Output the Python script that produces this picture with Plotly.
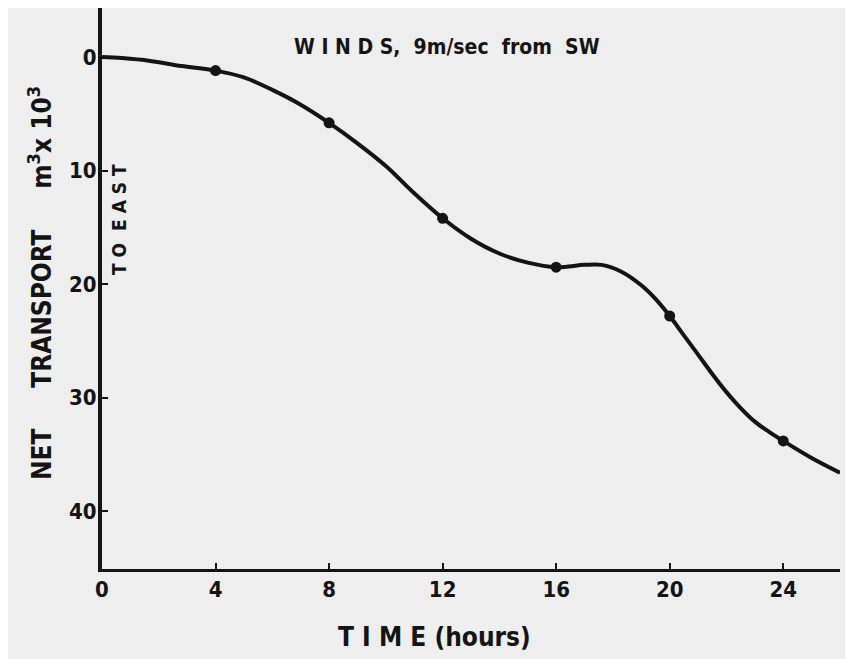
import plotly.graph_objects as go

# Curve (hours, net transport in 10^3 m^3)
curve_hours = [0, 0.7, 1.7, 2.8, 4, 5, 6, 7, 8, 9, 10, 11, 12, 13, 14, 15, 16, 17, 17.6,
               18.3, 19, 19.5, 20, 20.5, 21, 21.5, 22, 22.5, 23, 23.5, 24, 25, 26]
curve_transport = [0, 0.1, 0.35, 0.8, 1.2, 1.8, 2.9, 4.2, 5.8, 7.6, 9.6, 12.0, 14.2, 16.0,
                   17.3, 18.1, 18.5, 18.3, 18.3, 18.9, 20.1, 21.3, 22.8, 24.5, 26.2, 27.9,
                   29.5, 30.9, 32.1, 33.0, 33.8, 35.3, 36.6]

# Plotted observation points
point_hours = [4, 8, 12, 16, 20, 24]
point_transport = [1.2, 5.8, 14.2, 18.5, 22.8, 33.8]

x_ticks = [0, 4, 8, 12, 16, 20, 24]
y_ticks = [0, 10, 20, 30, 40]

FONT = "Liberation Sans Narrow, DejaVu Sans Condensed, Arial Narrow, sans-serif"
BG = "#eeeeee"
INK = "#141414"

fig = go.Figure()
fig.add_trace(go.Scatter(x=curve_hours, y=curve_transport, mode="lines",
                         line=dict(color=INK, width=4, shape="spline", smoothing=1.0),
                         hoverinfo="skip", showlegend=False))
fig.add_trace(go.Scatter(x=point_hours, y=point_transport, mode="markers",
                         marker=dict(color=INK, size=11), showlegend=False))

# page has an 8px body margin: plot area spans page x 102..840, y 8..569
fig.update_layout(
    width=845, height=651,
    paper_bgcolor=BG, plot_bgcolor=BG,
    margin=dict(l=94, r=13, t=0, b=90),
    font=dict(family=FONT, color=INK, size=20),
    showlegend=False,
)
fig.update_xaxes(range=[0, 26], tickvals=x_ticks, ticktext=[str(v) for v in x_ticks],
                 showgrid=False, zeroline=False, showline=True, linecolor=INK, linewidth=3,
                 ticks="inside", ticklen=6, tickwidth=2, tickcolor=INK,
                 tickfont=dict(family=FONT, size=22, color=INK, weight="bold"),
                 ticklabelstandoff=-1)
fig.update_yaxes(range=[45.07, -4.31], tickvals=y_ticks, ticktext=[str(v) for v in y_ticks],
                 showgrid=False, zeroline=False, showline=True, linecolor=INK, linewidth=4,
                 ticks="inside", ticklen=6, tickwidth=2, tickcolor=INK,
                 tickfont=dict(family=FONT, size=22, color=INK, weight="bold"),
                 ticklabelstandoff=-3)


def px(x):
    return (x - 102) / 738


def py(y):
    return (569 - y) / 561


fig.add_annotation(text="T I M E (hours)", xref="paper", yref="paper",
                   x=px(434), y=py(637), showarrow=False,
                   font=dict(family=FONT, size=26, color=INK, weight="bold"),
                   xanchor="center", yanchor="middle")
fig.add_annotation(text="NET     TRANSPORT     m<sup>3</sup>x 10<sup>3</sup>",
                   xref="paper", yref="paper",
                   x=px(40), y=py(283), textangle=-90, showarrow=False,
                   font=dict(family=FONT, size=26, color=INK, weight="bold"),
                   xanchor="center", yanchor="middle")
fig.add_annotation(text="T O  E A S T", xref="paper", yref="paper",
                   x=px(119), y=py(220), textangle=-90, showarrow=False,
                   font=dict(family=FONT, size=19, color=INK, weight="bold"),
                   xanchor="center", yanchor="middle")
fig.add_annotation(text="W I N D S,  9m/sec  from  SW", xref="paper", yref="paper",
                   x=px(447), y=py(47), showarrow=False,
                   font=dict(family=FONT, size=21, color=INK, weight="bold"),
                   xanchor="center", yanchor="middle")

fig.write_html("out.html")
